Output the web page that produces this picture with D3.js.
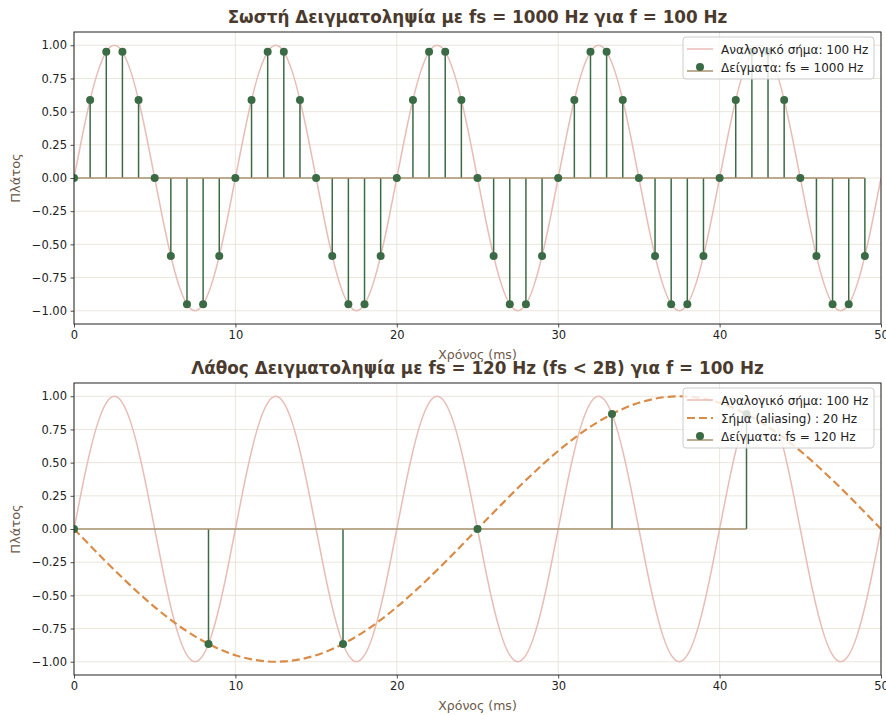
<!DOCTYPE html>
<html>
<head>
<meta charset="utf-8">
<script src="https://cdn.jsdelivr.net/npm/d3@7"></script>
<style>
  html, body { margin: 0; padding: 0; background: #ffffff; }
  svg { display: block; font-family: "DejaVu Sans", sans-serif; }
</style>
</head>
<body>
<svg id="chart" width="886" height="715"></svg>
<script>
// Analog 100 Hz signal, sampled every 0.5 ms from 0 to 50 ms
const analogT = d3.range(0, 101).map(i => i * 0.5);
const analogV = [
  0, 0.309, 0.588, 0.809, 0.951, 1, 0.951, 0.809, 0.588, 0.309,
  0, -0.309, -0.588, -0.809, -0.951, -1, -0.951, -0.809, -0.588, -0.309,
  0, 0.309, 0.588, 0.809, 0.951, 1, 0.951, 0.809, 0.588, 0.309,
  0, -0.309, -0.588, -0.809, -0.951, -1, -0.951, -0.809, -0.588, -0.309,
  0, 0.309, 0.588, 0.809, 0.951, 1, 0.951, 0.809, 0.588, 0.309,
  0, -0.309, -0.588, -0.809, -0.951, -1, -0.951, -0.809, -0.588, -0.309,
  0, 0.309, 0.588, 0.809, 0.951, 1, 0.951, 0.809, 0.588, 0.309,
  0, -0.309, -0.588, -0.809, -0.951, -1, -0.951, -0.809, -0.588, -0.309,
  0, 0.309, 0.588, 0.809, 0.951, 1, 0.951, 0.809, 0.588, 0.309,
  0, -0.309, -0.588, -0.809, -0.951, -1, -0.951, -0.809, -0.588, -0.309,
  0
];

// Samples at fs = 1000 Hz (one per ms)
const goodT = d3.range(0, 50);
const goodV = [
  0, 0.588, 0.951, 0.951, 0.588, 0, -0.588, -0.951, -0.951, -0.588,
  0, 0.588, 0.951, 0.951, 0.588, 0, -0.588, -0.951, -0.951, -0.588,
  0, 0.588, 0.951, 0.951, 0.588, 0, -0.588, -0.951, -0.951, -0.588,
  0, 0.588, 0.951, 0.951, 0.588, 0, -0.588, -0.951, -0.951, -0.588,
  0, 0.588, 0.951, 0.951, 0.588, 0, -0.588, -0.951, -0.951, -0.588
];

// Alias 20 Hz signal, every 1 ms
const aliasT = d3.range(0, 51);
const aliasV = [
  0, -0.125, -0.249, -0.368, -0.482, -0.588, -0.685, -0.771, -0.844, -0.905,
  -0.951, -0.982, -0.998, -0.998, -0.982, -0.951, -0.905, -0.844, -0.771, -0.685,
  -0.588, -0.482, -0.368, -0.249, -0.125,
  0, 0.125, 0.249, 0.368, 0.482, 0.588, 0.685, 0.771, 0.844, 0.905,
  0.951, 0.982, 0.998, 0.998, 0.982, 0.951, 0.905, 0.844, 0.771, 0.685,
  0.588, 0.482, 0.368, 0.249, 0.125, 0
];

// Samples at fs = 120 Hz
const badT = [0, 8.333, 16.667, 25, 33.333, 41.667];
const badV = [0, -0.866, -0.866, 0, 0.866, 0.866];

const xTicks = [0, 10, 20, 30, 40, 50];
const yTicks = [-1, -0.75, -0.5, -0.25, 0, 0.25, 0.5, 0.75, 1];

const titles = [
  "Σωστή Δειγματοληψία με fs = 1000 Hz για f = 100 Hz",
  "Λάθος Δειγματοληψία με fs = 120 Hz (fs < 2B) για f = 100 Hz"
];
const legendGood = ["Αναλογικό σήμα: 100 Hz", "Δείγματα: fs = 1000 Hz"];
const legendBad = ["Αναλογικό σήμα: 100 Hz", "Σήμα (aliasing) : 20 Hz", "Δείγματα: fs = 120 Hz"];
const xLabel = "Χρόνος (ms)";
const yLabel = "Πλάτος";

const C = {
  analog: "#e8bdb6",
  alias: "#d98c48",
  stem: "#3b6b45",
  base: "#a8926e",
  grid: "#e6dfd3",
  spine: "#222222",
  title: "#4a3b2e",
  label: "#6b5848",
  tick: "#222222"
};

const svg = d3.select("#chart");
const left = 74, right = 881;

function panel(top, bottom, title, series, samples, legendItems) {
  const g = svg.append("g");
  const x = d3.scaleLinear().domain([0, 50]).range([left, right]);
  const y = d3.scaleLinear().domain([-1.1, 1.1]).range([bottom, top]);
  const clipId = "clip" + top;
  svg.append("clipPath").attr("id", clipId)
    .append("rect").attr("x", left).attr("y", top).attr("width", right - left).attr("height", bottom - top);

  // grid
  g.append("g").selectAll("line").data(xTicks).join("line")
    .attr("x1", d => x(d)).attr("x2", d => x(d)).attr("y1", top).attr("y2", bottom)
    .attr("stroke", C.grid).attr("stroke-width", 0.8);
  g.append("g").selectAll("line").data(yTicks).join("line")
    .attr("y1", d => y(d)).attr("y2", d => y(d)).attr("x1", left).attr("x2", right)
    .attr("stroke", C.grid).attr("stroke-width", 0.8);

  const plot = g.append("g").attr("clip-path", `url(#${clipId})`);
  const line = d3.line().x(d => x(d[0])).y(d => y(d[1])).curve(d3.curveNatural);

  series.forEach(s => {
    plot.append("path").datum(s.t.map((t, i) => [t, s.v[i]]))
      .attr("d", line).attr("fill", "none")
      .attr("stroke", s.color).attr("stroke-width", s.width)
      .attr("stroke-dasharray", s.dash || null);
  });

  // stems
  const pts = samples.t.map((t, i) => [t, samples.v[i]]);
  plot.append("g").selectAll("line").data(pts).join("line")
    .attr("x1", d => x(d[0])).attr("x2", d => x(d[0]))
    .attr("y1", y(0)).attr("y2", d => y(d[1]))
    .attr("stroke", C.stem).attr("stroke-width", 1.5);
  plot.append("line")
    .attr("x1", x(d3.min(samples.t))).attr("x2", x(d3.max(samples.t)))
    .attr("y1", y(0)).attr("y2", y(0))
    .attr("stroke", C.base).attr("stroke-width", 1.5);
  plot.append("g").selectAll("circle").data(pts).join("circle")
    .attr("cx", d => x(d[0])).attr("cy", d => y(d[1])).attr("r", 4)
    .attr("fill", C.stem);

  // axes
  const xAxis = d3.axisBottom(x).tickValues(xTicks).tickSize(3.5).tickPadding(3.5).tickFormat(d3.format("d"));
  const yAxis = d3.axisLeft(y).tickValues(yTicks).tickSize(3.5).tickPadding(3.5).tickFormat(d3.format(".2f"));
  const gx = g.append("g").attr("transform", `translate(0,${bottom})`).call(xAxis);
  const gy = g.append("g").attr("transform", `translate(${left},0)`).call(yAxis);
  [gx, gy].forEach(a => {
    a.select(".domain").remove();
    a.selectAll(".tick line").attr("stroke", C.spine).attr("stroke-width", 0.8);
    a.selectAll(".tick text").attr("fill", C.tick).attr("font-size", 11.5)
      .attr("font-family", "DejaVu Sans, sans-serif");
  });
  gy.selectAll(".tick text").text(d => d3.format(".2f")(d).replace("-", "\u2212"));

  // frame
  g.append("rect").attr("x", left).attr("y", top).attr("width", right - left).attr("height", bottom - top)
    .attr("fill", "none").attr("stroke", C.spine).attr("stroke-width", 1);

  // labels
  g.append("text").attr("x", (left + right) / 2).attr("y", top - 9)
    .attr("text-anchor", "middle").attr("font-size", 16.8).attr("font-weight", "bold")
    .attr("fill", C.title).text(title);
  g.append("text").attr("x", (left + right) / 2).attr("y", bottom + 35)
    .attr("text-anchor", "middle").attr("font-size", 12.5).attr("fill", C.label).text(xLabel);
  g.append("text").attr("transform", `translate(20,${(top + bottom) / 2}) rotate(-90)`)
    .attr("text-anchor", "middle").attr("font-size", 13).attr("fill", C.label).text(yLabel);

  // legend
  const lx = 683, lw = 191, rowH = 18;
  const lh = legendItems.length * rowH + 6;
  const lg = g.append("g").attr("transform", `translate(${lx},${top + 5})`);
  lg.append("rect").attr("width", lw).attr("height", lh).attr("rx", 3)
    .attr("fill", "rgba(255,255,255,0.8)").attr("stroke", "#cccccc").attr("stroke-width", 1);
  legendItems.forEach((it, i) => {
    const cy = 12 + i * rowH;
    const row = lg.append("g").attr("transform", `translate(0,${cy})`);
    if (it.kind === "stem") {
      row.append("line").attr("x1", 4).attr("x2", 30).attr("y1", 4).attr("y2", 4)
        .attr("stroke", C.base).attr("stroke-width", 1.5);
      row.append("line").attr("x1", 17).attr("x2", 17).attr("y1", 4).attr("y2", 0)
        .attr("stroke", C.stem).attr("stroke-width", 1.5);
      row.append("circle").attr("cx", 17).attr("cy", 0).attr("r", 4).attr("fill", C.stem);
    } else {
      row.append("line").attr("x1", 4).attr("x2", 30).attr("y1", 0).attr("y2", 0)
        .attr("stroke", it.color).attr("stroke-width", it.width)
        .attr("stroke-dasharray", it.dash || null);
    }
    row.append("text").attr("x", 38).attr("y", 4.5).attr("font-size", 12)
      .attr("fill", "#222").text(it.label);
  });
}

panel(32, 324, titles[0],
  [{ t: analogT, v: analogV, color: C.analog, width: 1.5 }],
  { t: goodT, v: goodV },
  [
    { label: legendGood[0], color: C.analog, width: 1.5 },
    { label: legendGood[1], kind: "stem" }
  ]);

panel(383, 675, titles[1],
  [
    { t: analogT, v: analogV, color: C.analog, width: 1.5 },
    { t: aliasT, v: aliasV, color: C.alias, width: 2.2, dash: "8,4" }
  ],
  { t: badT, v: badV },
  [
    { label: legendBad[0], color: C.analog, width: 1.5 },
    { label: legendBad[1], color: C.alias, width: 2.2, dash: "8,4" },
    { label: legendBad[2], kind: "stem" }
  ]);
</script>
</body>
</html>
